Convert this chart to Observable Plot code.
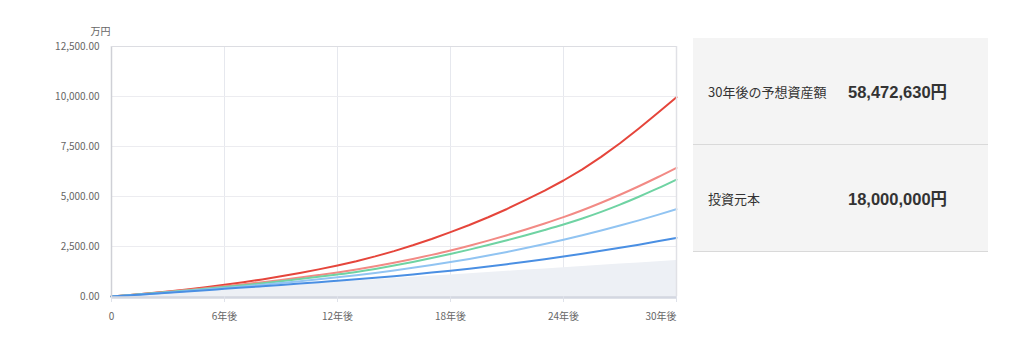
<!DOCTYPE html>
<html><head><meta charset="utf-8">
<script src="https://cdn.jsdelivr.net/npm/d3@7"></script>
<script src="https://cdn.jsdelivr.net/npm/@observablehq/plot@0.6"></script>
<style>
body{margin:0;background:#fff;font-family:"Noto Sans CJK JP","Noto Sans",sans-serif;}
#wrap{position:relative;width:1024px;height:347px;overflow:hidden;}
#chart{position:absolute;left:0;top:0;}
#panel{position:absolute;left:693px;top:38px;width:295px;background:#f4f4f4;}
.row{height:106px;border-bottom:1px solid #d9d9d9;position:relative;}
.lab{position:absolute;left:15px;top:50%;transform:translateY(-50%);font-size:13px;color:#333;white-space:nowrap;}
.val{position:absolute;left:155px;top:50%;transform:translateY(-50%);font-family:"Liberation Sans","Noto Sans CJK JP",sans-serif;font-size:16.5px;font-weight:bold;color:#333;white-space:nowrap;}
</style></head>
<body><div id="wrap"><div id="chart"></div><div id="panel"></div></div>
<script>
const years = [0,1,2,3,4,5,6,7,8,9,10,11,12,13,14,15,16,17,18,19,20,21,22,23,24,25,26,27,28,29,30];
const principal = [0,60,120,180,240,300,360,420,480,540,600,660,720,780,840,900,960,1020,1080,1140,1200,1260,1320,1380,1440,1500,1560,1620,1680,1740,1800];
const seriesRed = [0,75,160,253,353,463,583,713,855,1008,1176,1356,1550,1765,2005,2270,2560,2875,3217,3577,3962,4377,4827,5297,5800,6360,6980,7660,8400,9170,9967];
const seriesSalmon = [0,76,156,239,326,416,510,610,716,828,946,1070,1200,1345,1507,1684,1876,2081,2300,2540,2795,3065,3350,3650,3967,4312,4687,5087,5512,5962,6433];
const seriesGreen = [0,70,144,221,301,384,470,562,660,763,870,982,1100,1228,1378,1546,1726,1921,2130,2345,2573,2813,3064,3326,3600,3900,4230,4592,4987,5402,5847];
const seriesLightBlue = [0,64,131,201,273,348,425,505,589,677,767,861,960,1066,1180,1302,1432,1571,1720,1880,2050,2230,2420,2620,2833,3058,3296,3546,3808,4081,4367];
const seriesBlue = [0,60,122,185,250,316,383,447,513,580,648,718,790,860,936,1016,1102,1194,1290,1390,1498,1613,1735,1865,2000,2140,2285,2435,2593,2758,2933];
const xTicks = [0,6,12,18,24,30];
const yTicks = [0,2500,5000,7500,10000,12500];
const yUnit = "万円";
const summaryLabels = ["30年後の予想資産額","投資元本"];
const summaryValues = ["58,472,630円","18,000,000円"];

const lines = [
  {values: seriesRed, color: "#e5453b", curve: "linear"},
  {values: seriesSalmon, color: "#f28a85", curve: "monotone-x"},
  {values: seriesGreen, color: "#6fd3a3", curve: "monotone-x"},
  {values: seriesLightBlue, color: "#91c4f2", curve: "monotone-x"},
  {values: seriesBlue, color: "#4a8fe3", curve: "monotone-x"}
];
const toRows = vals => years.map((t,i)=>({t, v: vals[i]}));

const chart = Plot.plot({
  width: 690, height: 347,
  marginLeft: 111, marginRight: 14, marginTop: 46, marginBottom: 51,
  style: {fontFamily: '"Noto Sans CJK JP","Noto Sans",sans-serif', fontSize: "10px", color: "#666", background: "transparent", overflow: "visible"},
  x: {domain: [0,30]},
  y: {domain: [0,12500]},
  marks: [
    Plot.gridX(xTicks, {stroke: "#e6e8ee", strokeOpacity: 1}),
    Plot.gridY(yTicks, {stroke: "#ececf0", strokeOpacity: 1}),
    Plot.areaY(toRows(principal), {x: "t", y: "v", fill: "#edf0f5"}),
    ...lines.map(s => Plot.lineY(toRows(s.values), {x: "t", y: "v", stroke: s.color, strokeWidth: 2, curve: s.curve})),
    Plot.ruleX([0], {stroke: "#cfd0d6", strokeWidth: 1.5}),
    Plot.ruleX([30], {stroke: "#e0e1e6", strokeWidth: 1.5}),
    Plot.ruleY([12500], {stroke: "#dcdde2", strokeWidth: 1}),
    Plot.ruleY([0], {stroke: "#d3d7e1", strokeWidth: 2.5, dy: 1}),
    Plot.axisY(yTicks, {tickSize: 0, tickPadding: 12, tickFormat: d3.format(",.2f"), label: null, fill: "#666"}),
    Plot.axisX(xTicks, {tickSize: 6, tickPadding: 10, stroke: "#dfe2ea", label: null, fill: "#666",
      tickFormat: d => d === 0 ? "0" : d === 30 ? "" : `${d}年後`}),
    Plot.text(xTicks.filter(d => d === 30), {x: d => d, frameAnchor: "bottom", textAnchor: "end", lineAnchor: "top", dy: 16, text: d => `${d}年後`, fill: "#666"}),
    Plot.text([yUnit], {frameAnchor: "top-left", textAnchor: "end", dx: -1, dy: -19, text: d => d, fill: "#666"})
  ]
});
document.getElementById("chart").appendChild(chart);

const panel = document.getElementById("panel");
summaryLabels.forEach((lab, i) => {
  const row = document.createElement("div");
  row.className = "row";
  row.innerHTML = `<span class="lab">${lab}</span><span class="val">${summaryValues[i]}</span>`;
  panel.appendChild(row);
});
</script></body></html>
